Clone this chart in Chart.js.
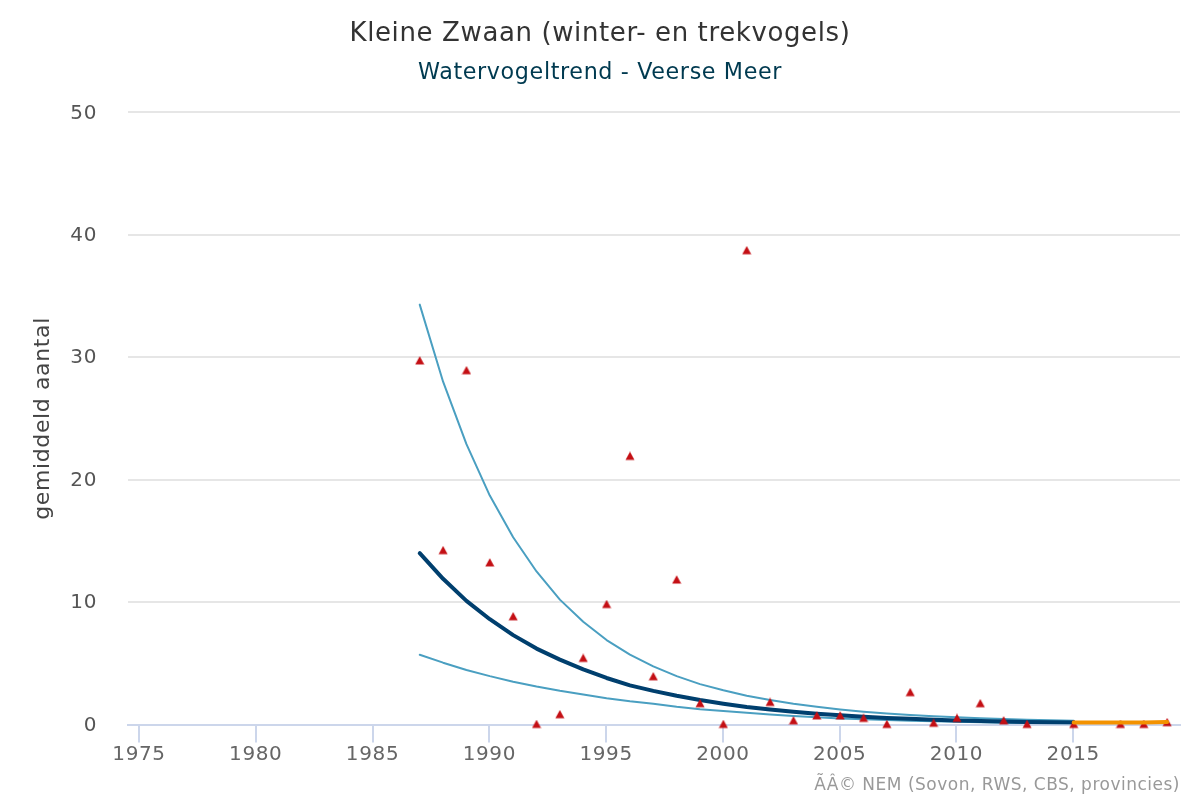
<!DOCTYPE html>
<html>
<head>
<meta charset="utf-8">
<title>Kleine Zwaan</title>
<script src="https://cdn.jsdelivr.net/npm/chart.js@4"></script>
<style>
    html, body { margin: 0; padding: 0; background: #fff; }
    canvas { display: block; }
</style>
</head>
<body>
<canvas id="trendChart" width="1200" height="800"></canvas>
<script>
// values
const years = [1987, 1988, 1989, 1990, 1991, 1992, 1993, 1994, 1995, 1996, 1997, 1998, 1999, 2000, 2001,
    2002, 2003, 2004, 2005, 2006, 2007, 2008, 2009, 2010, 2011, 2012, 2013, 2014, 2015];
const trend = [14.0, 11.9, 10.1, 8.6, 7.3, 6.2, 5.3, 4.5, 3.8, 3.2, 2.75, 2.35, 2.0, 1.7, 1.43,
    1.22, 1.04, 0.88, 0.75, 0.64, 0.54, 0.46, 0.39, 0.33, 0.28, 0.24, 0.2, 0.18, 0.17];
const upper = [34.3, 28.0, 22.9, 18.7, 15.3, 12.5, 10.2, 8.4, 6.9, 5.7, 4.75, 3.95, 3.3, 2.8, 2.35,
    2.0, 1.7, 1.45, 1.23, 1.05, 0.9, 0.78, 0.68, 0.59, 0.51, 0.45, 0.39, 0.34, 0.3];
const lower = [5.7, 5.05, 4.45, 3.95, 3.5, 3.1, 2.75, 2.45, 2.15, 1.9, 1.7, 1.45, 1.25, 1.1, 0.95,
    0.82, 0.7, 0.6, 0.5, 0.43, 0.37, 0.31, 0.26, 0.22, 0.18, 0.15, 0.13, 0.11, 0.09];

const recentYears = [2015, 2016, 2017, 2018, 2019];
const recentTrend = [0.17, 0.17, 0.17, 0.17, 0.2];

const countYears = [1987, 1988, 1989, 1990, 1991, 1992, 1993, 1994, 1995, 1996, 1997, 1998, 1999, 2000, 2001,
    2002, 2003, 2004, 2005, 2006, 2007, 2008, 2009, 2010, 2011, 2012, 2013, 2015, 2017, 2018, 2019];
const counts = [29.7, 14.2, 28.9, 13.2, 8.8, 0, 0.8, 5.4, 9.8, 21.9, 3.9, 11.8, 1.7, 0, 38.7,
    1.8, 0.3, 0.7, 0.7, 0.5, 0, 2.6, 0.1, 0.5, 1.7, 0.3, 0, 0, 0, 0, 0.15];

const xTicks = [1975, 1980, 1985, 1990, 1995, 2000, 2005, 2010, 2015];
const yTicks = [0, 10, 20, 30, 40, 50];

const fontName = "'DejaVu Sans'";

// marks sit a little right of the year ticks in the original
const yearShift = 0.02;

function toPoints(xs, ys) {
    return xs.map((x, i) => ({ x: x + yearShift, y: ys[i] }));
}

// triangle marker, centred on its value like in the original
function makeTriangle() {
    const marker = document.createElement('canvas');
    marker.width = 10;
    marker.height = 10;
    const m = marker.getContext('2d');
    m.fillStyle = '#c40f14';
    m.beginPath();
    m.moveTo(5, 0.2);
    m.lineTo(9.5, 8.5);
    m.lineTo(0.5, 8.5);
    m.closePath();
    m.fill();
    return marker;
}

// original text runs a bit wider than the canvas font
const spacingPlugin = {
    id: 'spacing',
    beforeUpdate(chart) { chart.ctx.letterSpacing = '0.62px'; },
    beforeDraw(chart) { chart.ctx.letterSpacing = '0.62px'; }
};

// credits line, bottom right
const creditsPlugin = {
    id: 'credits',
    afterDraw(chart) {
        const ctx = chart.ctx;
        ctx.save();
        ctx.font = '17px ' + fontName;
        ctx.letterSpacing = '0.5px';
        ctx.fillStyle = '#999999';
        ctx.textAlign = 'right';
        ctx.textBaseline = 'middle';
        ctx.fillText('ÃÂ© NEM (Sovon, RWS, CBS, provincies)', 1180, 785.5);
        ctx.restore();
    }
};

new Chart(document.getElementById('trendChart').getContext('2d'), {
    type: 'scatter',
    plugins: [spacingPlugin, creditsPlugin],
    data: {
        datasets: [
            {
                label: 'bovengrens',
                data: toPoints(years, upper),
                showLine: true,
                borderColor: '#4a9fc1',
                borderWidth: 2,
                borderCapStyle: 'round',
                borderJoinStyle: 'round',
                pointRadius: 0,
                order: 5
            },
            {
                label: 'ondergrens',
                data: toPoints(years, lower),
                showLine: true,
                borderColor: '#4a9fc1',
                borderWidth: 2,
                borderCapStyle: 'round',
                borderJoinStyle: 'round',
                pointRadius: 0,
                order: 4
            },
            {
                label: 'trend',
                data: toPoints(years, trend),
                showLine: true,
                borderColor: '#003f6e',
                borderWidth: 4,
                borderCapStyle: 'round',
                borderJoinStyle: 'round',
                pointRadius: 0,
                order: 3
            },
            {
                label: 'getelde aantallen',
                data: toPoints(countYears, counts),
                showLine: false,
                clip: false,
                pointStyle: makeTriangle(),
                pointRadius: 5,
                pointBorderWidth: 0,
                order: 2
            },
            {
                label: 'laatste jaren',
                data: toPoints(recentYears, recentTrend),
                showLine: true,
                clip: false,
                borderColor: '#f39200',
                borderWidth: 4,
                borderCapStyle: 'round',
                borderJoinStyle: 'round',
                pointRadius: 0,
                order: 1
            }
        ]
    },
    options: {
        responsive: false,
        animation: false,
        layout: { padding: 0 },
        scales: {
            x: {
                type: 'linear',
                min: 1974.53,
                max: 2019.57,
                afterFit(axis) { axis.height = 75.5; },
                afterBuildTicks(axis) { axis.ticks = xTicks.map(v => ({ value: v })); },
                border: { color: '#ccd6eb', width: 2 },
                grid: { drawOnChartArea: false, color: '#ccd6eb', lineWidth: 2, tickLength: 18, drawTicks: true },
                ticks: {
                    color: '#666666',
                    padding: 0,
                    maxRotation: 0,
                    autoSkip: false,
                    font: { family: fontName, size: 20 },
                    callback: v => String(v)
                }
            },
            y: {
                min: 0,
                max: 50,
                afterFit(axis) { axis.width = 128; },
                afterBuildTicks(axis) { axis.ticks = yTicks.map(v => ({ value: v })); },
                border: { display: false },
                grid: { color: '#e6e6e6', lineWidth: 2, drawTicks: false },
                ticks: {
                    color: '#555555',
                    padding: 31,
                    labelOffset: 1,
                    font: { family: fontName, size: 20 }
                },
                title: {
                    display: true,
                    text: 'gemiddeld aantal',
                    color: '#444444',
                    padding: { top: 30, bottom: 0 },
                    font: { family: fontName, size: 22 }
                }
            },
            // empty axis, keeps the 20px gap right of the plot while the titles stay centred on the page
            rightGap: {
                position: 'right',
                min: 0,
                max: 1,
                afterFit(axis) { axis.width = 20; },
                border: { display: false },
                grid: { display: false },
                ticks: { display: false }
            }
        },
        plugins: {
            legend: { display: false },
            tooltip: { enabled: false },
            title: {
                display: true,
                text: 'Kleine Zwaan (winter- en trekvogels)',
                color: '#333333',
                padding: { top: 19, bottom: 10 },
                font: { family: fontName, size: 26, weight: 'normal' }
            },
            subtitle: {
                display: true,
                text: 'Watervogeltrend - Veerse Meer',
                color: '#003a50',
                padding: { top: 0, bottom: 25.5 },
                font: { family: fontName, size: 22.25, weight: 'normal' }
            }
        }
    }
});
</script>
</body>
</html>
